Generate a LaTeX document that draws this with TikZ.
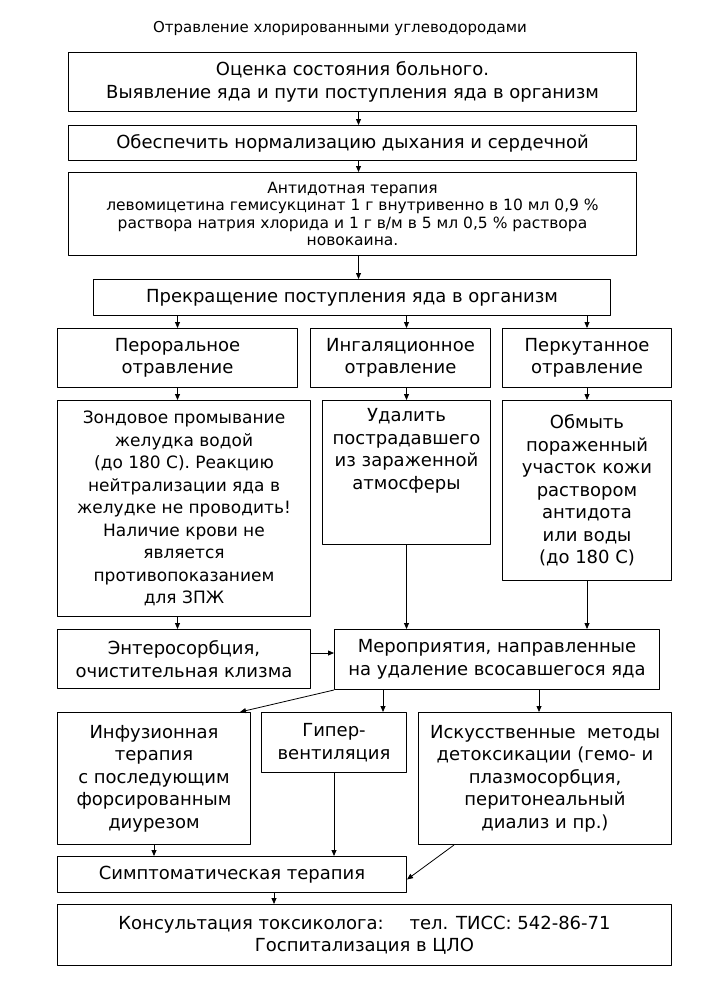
\documentclass[tikz,border=0pt]{standalone}
\usepackage{fontspec}
\setmainfont{DejaVu Sans}
\usetikzlibrary{arrows.meta}
\tikzset{
  every picture/.style={line join=round, >={Triangle[length=6pt,width=5pt]}},
  box/.style={draw, line width=1pt, anchor=north west, align=center, inner sep=2pt,
    font=\fontsize{18}{22.5}\selectfont},
  small/.style={font=\fontsize{15.5}{17.5}\selectfont},
  arr/.style={->, line width=0.8pt},
}
\begin{document}
\begin{tikzpicture}[x=1pt,y=-1pt]
\useasboundingbox (0,0) rectangle (705,990);
\node[font=\fontsize{15}{17}\selectfont] (title) at (340,28) {Отравление хлорированными углеводородами};
% upper column
\node[box, minimum width=568pt, minimum height=59pt] (b1) at (68,52)
  {Оценка состояния больного.\\Выявление яда и пути поступления яда в организм};
\node[box, minimum width=568pt, minimum height=35pt] (b2) at (68,125)
  {Обеспечить нормализацию дыхания и сердечной};
\node[box, small, minimum width=568pt, minimum height=83pt] (b3) at (68,172)
  {Антидотная терапия\\ левомицетина гемисукцинат 1 г внутривенно в 10 мл 0,9 \%\\ раствора натрия хлорида и 1 г в/м в 5 мл 0,5 \% раствора\\ новокаина.};
\node[box, minimum width=517pt, minimum height=36pt] (b4) at (93,279)
  {Прекращение поступления яда в организм};
% three ways
\node[box, minimum width=240pt, minimum height=59pt] (p1) at (57,328) {Пероральное\\отравление};
\node[box, minimum width=180pt, minimum height=59pt] (p2) at (310,328) {Ингаляционное\\отравление};
\node[box, minimum width=169pt, minimum height=59pt] (p3) at (502,328) {Перкутанное\\отравление};
\node[box, font=\fontsize{17}{22.5}\selectfont, minimum width=253pt, minimum height=216pt] (q1) at (57,400)
  {Зондовое промывание\\желудка водой\\(до 180 С). Реакцию\\нейтрализации яда в\\желудке не проводить!\\Наличие крови не\\является\\противопоказанием\\для ЗПЖ};
\node[box, minimum width=168pt, minimum height=144pt] (q2) at (322,400) {};
\node[box, draw=none, anchor=north] (q2t) at ([yshift=-6pt]q2.north)
  {Удалить\\пострадавшего\\из зараженной\\атмосферы};
\node[box, minimum width=169pt, minimum height=180pt] (q3) at (502,400)
  {Обмыть\\пораженный\\участок кожи\\раствором\\антидота\\или воды\\(до 180 С)};
% removal
\node[box, minimum width=253pt, minimum height=59pt] (r1) at (57,629) {Энтеросорбция,\\очистительная клизма};
\node[box, minimum width=325pt, minimum height=60pt] (r2) at (334,629)
  {Мероприятия, направленные\\на удаление всосавшегося яда};
\node[box, minimum width=193pt, minimum height=132pt] (s1) at (57,712)
  {Инфузионная\\терапия\\с последующим\\форсированным\\диурезом};
\node[box, minimum width=145pt, minimum height=60pt] (s2) at (261,712) {Гипер-\\вентиляция};
\node[box, minimum width=253pt, minimum height=132pt] (s3) at (418,712)
  {Искусственные~~методы\\детоксикации (гемо- и\\плазмосорбция,\\перитонеальный\\диализ и пр.)};
\node[box, minimum width=349pt, minimum height=36pt] (u) at (57,856) {Симптоматическая терапия};
\node[box, minimum width=614pt, minimum height=61pt] (v) at (57,904)
  {Консультация токсиколога:\hspace{26pt}тел. ТИСС: 542-86-71\\Госпитализация в ЦЛО};
% helper points
\coordinate (c1) at ([xshift=6pt]b1.south);
\coordinate (c2) at ([xshift=-24pt]s2.north east);
\coordinate (c3) at ([xshift=-6pt]s3.north);
\coordinate (c4) at ([xshift=42pt]u.south);
% arrows
\draw[arr] (b1.south -| c1) -- (b2.north -| c1);
\draw[arr] (b2.south -| c1) -- (b3.north -| c1);
\draw[arr] (b3.south -| c1) -- (b4.north -| c1);
\draw[arr] (b4.south -| p1) -- (p1.north);
\draw[arr] (b4.south -| q2) -- (p2.north -| q2);
\draw[arr] (b4.south -| p3) -- (p3.north);
\draw[arr] (p1.south) -- (q1.north -| p1);
\draw[arr] (p2.south -| q2) -- (q2.north);
\draw[arr] (p3.south) -- (q3.north);
\draw[arr] (q1.south -| p1) -- (r1.north -| p1);
\draw[arr] (q2.south) -- (r2.north -| q2);
\draw[arr] (q3.south) -- (r2.north -| q3);
\draw[arr] ([yshift=6pt]r1.east) -- ([yshift=6pt]r1.east -| r2.west);
\draw[arr] (r2.south west) -- ([xshift=-11pt]s1.north east);
\draw[arr] (r2.south -| c2) -- (c2);
\draw[arr] (r2.south -| c3) -- (c3);
\draw[arr] (s1.south) -- (u.north -| s1);
\draw[arr] (s2.south) -- (u.north -| s2);
\draw[arr] ([xshift=36pt]s3.south west) -- ([yshift=-5pt]u.east);
\draw[arr] (c4) -- (v.north -| c4);
\end{tikzpicture}
\end{document}
